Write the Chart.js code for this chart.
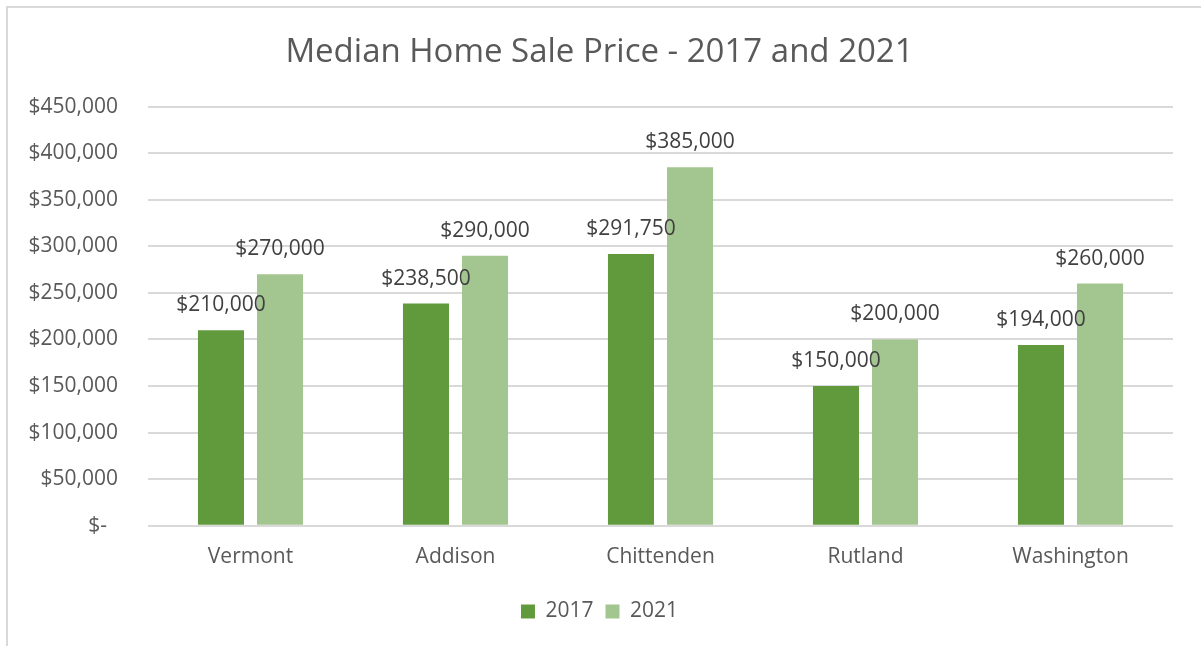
<!DOCTYPE html>
<html>
<head>
<meta charset="utf-8">
<script src="https://cdn.jsdelivr.net/npm/chart.js@4"></script>
<style>
    html, body { margin: 0; padding: 0; background: #fff; overflow: hidden; }
    .frame { position: absolute; left: 6px; top: 6px; width: 1300px; height: 700px;
             border-left: 2px solid #d9d9d9; border-top: 2px solid #d9d9d9; }
    .chart-wrap { position: absolute; left: 0; top: 0; width: 1201px; height: 646px; }
</style>
</head>
<body>
<div class="frame"></div>
<div class="chart-wrap"><canvas id="chart" width="1201" height="646"></canvas></div>
<script>
const categories = ['Vermont', 'Addison', 'Chittenden', 'Rutland', 'Washington'];
const sales2017 = [210000, 238500, 291750, 150000, 194000];
const sales2021 = [270000, 290000, 385000, 200000, 260000];
const yMax = 450000;
const yStep = 50000;

const FONT = '"Open Sans", "DejaVu Sans", sans-serif';

function money(v) {
    // excel accounting style, zero shows as a dash
    if (v === 0) return '$-  ';
    return '$' + v.toLocaleString('en-US');
}

// draws the value above each bar
const barLabels = {
    id: 'barLabels',
    afterDatasetsDraw(chart) {
        const ctx = chart.ctx;
        ctx.save();
        ctx.font = '21px ' + FONT;
        ctx.fillStyle = '#404040';
        ctx.textAlign = 'center';
        ctx.textBaseline = 'middle';
        chart.data.datasets.forEach((ds, i) => {
            chart.getDatasetMeta(i).data.forEach((bar, j) => {
                ctx.fillText(money(ds.data[j]), bar.x, bar.y - 25);
            });
        });
        ctx.restore();
    }
};

new Chart(document.getElementById('chart'), {
    type: 'bar',
    data: {
        labels: categories,
        datasets: [
            { label: '2017', data: sales2017, backgroundColor: '#619a3c' },
            { label: '2021', data: sales2021, backgroundColor: '#a3c58f' }
        ]
    },
    options: {
        responsive: false,
        animation: false,
        categoryPercentage: 0.576,
        barPercentage: 0.78,
        layout: { padding: { left: 26, right: 28, top: 0, bottom: 14 } },
        scales: {
            x: {
                grid: { display: false, drawTicks: false },
                border: { display: false },
                ticks: { color: '#595959', font: { family: FONT, size: 21 }, padding: 19 }
            },
            y: {
                min: 0,
                max: yMax,
                grid: { color: '#d9d9d9', lineWidth: 2, drawTicks: false },
                border: { display: false },
                ticks: {
                    stepSize: yStep,
                    color: '#595959',
                    font: { family: FONT, size: 21 },
                    padding: 30,
                    callback: v => money(v)
                },
                afterFit: scale => { scale.width = 122; }
            }
        },
        plugins: {
            title: {
                display: true,
                text: 'Median Home Sale Price - 2017 and 2021',
                color: '#595959',
                font: { family: FONT, size: 33, weight: 'normal' },
                padding: { top: 33, bottom: 34 }
            },
            legend: {
                position: 'bottom',
                labels: {
                    color: '#595959',
                    font: { family: FONT, size: 21 },
                    boxWidth: 14,
                    boxHeight: 14,
                    padding: 12
                }
            },
            tooltip: { enabled: false }
        }
    },
    plugins: [barLabels]
});
</script>
</body>
</html>
